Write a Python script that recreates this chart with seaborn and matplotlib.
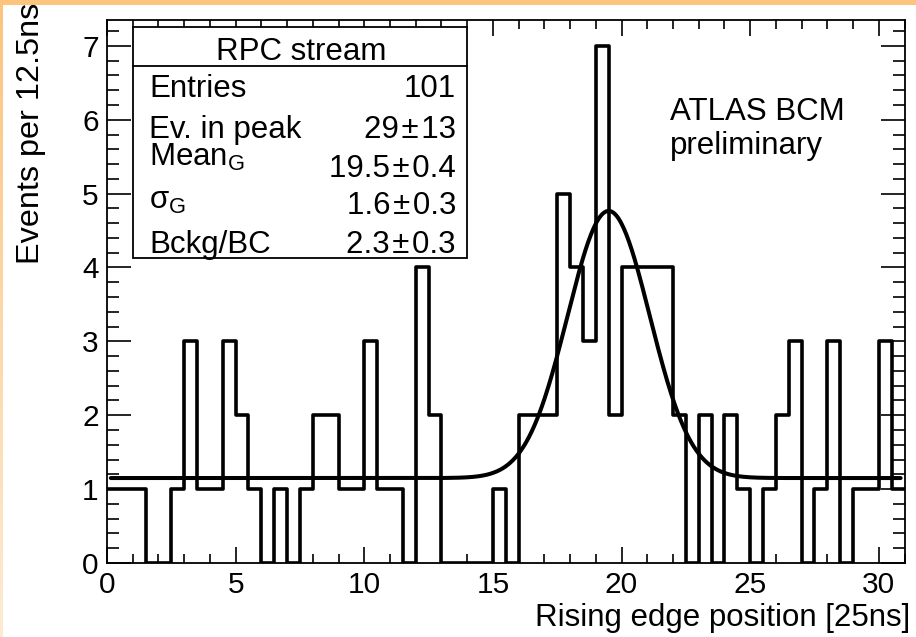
import numpy as np
import pandas as pd
import matplotlib
matplotlib.use("Agg")
import matplotlib.pyplot as plt
import seaborn as sns
from matplotlib.patches import Rectangle
from matplotlib.lines import Line2D
from matplotlib.ticker import MultipleLocator
from matplotlib.colors import LinearSegmentedColormap

# Rising-edge positions in units of one bunch crossing (25 ns), 12.5 ns bins
bin_width = 0.5
x_min, x_max = 0.0, 31.0
counts = [1, 1, 1, 0, 0, 1, 3, 1, 1, 3, 2, 1, 0, 1, 0, 1,
          2, 2, 1, 1, 3, 1, 1, 0, 4, 2, 0, 0, 0, 0, 1, 0,
          2, 2, 2, 5, 4, 3, 7, 2, 4, 4, 4, 4, 2, 0, 2, 0,
          2, 1, 0, 1, 2, 3, 0, 1, 3, 0, 1, 1, 3, 1]

# Gaussian + flat background fit results
stream_name = "RPC stream"
n_entries = 101
peak_events, peak_events_err = 29, 13
mean_g, mean_g_err = 19.5, 0.4
sigma_g, sigma_g_err = 1.6, 0.3
bckg_per_bc, bckg_per_bc_err = 2.3, 0.3

x_label = "Rising edge position [25ns]"
y_label = "Events per 12.5ns"
tag_lines = ["ATLAS BCM", "preliminary"]

bin_edges = [x_min + i * bin_width for i in range(len(counts) + 1)]
df = pd.DataFrame({"center": [e + bin_width / 2 for e in bin_edges[:-1]],
                   "count": counts})

W, H, DPI = 916, 637, 100
sns.set_style("ticks")
plt.rcParams["font.family"] = ["Liberation Sans", "DejaVu Sans"]
plt.rcParams["mathtext.fontset"] = "custom"
plt.rcParams["mathtext.rm"] = "Liberation Sans"
plt.rcParams["mathtext.it"] = "Liberation Sans"
plt.rcParams["mathtext.default"] = "regular"
plt.rcParams["text.color"] = "black"
plt.rcParams["axes.labelcolor"] = "black"

TXT = 22.5

fig = plt.figure(figsize=(W / DPI, H / DPI), dpi=DPI)
fig.patch.set_facecolor("white")

def px_box(left, top, right, bottom):
    return [left / W, 1 - bottom / H, (right - left) / W, (bottom - top) / H]

ax = fig.add_axes(px_box(107, 20, 904.5, 563))

sns.histplot(data=df, x="center", weights="count", bins=bin_edges,
             element="step", fill=False, color="black", linewidth=2.6, ax=ax)

# fitted function: flat background per bin + Gaussian peak
xf = np.linspace(0.15, 30.85, 600)
bkg_bin = bckg_per_bc * bin_width
amp = peak_events * bin_width / (sigma_g * np.sqrt(2 * np.pi))
yf = bkg_bin + amp * np.exp(-0.5 * ((xf - mean_g) / sigma_g) ** 2)
sns.lineplot(x=xf, y=yf, color="black", linewidth=2.9, ax=ax)

ax.set_xlim(x_min, x_max)
ax.set_ylim(0, 7.35)
ax.set_xlabel("")
ax.set_ylabel("")
ax.xaxis.set_major_locator(MultipleLocator(5))
ax.xaxis.set_minor_locator(MultipleLocator(1))
ax.yaxis.set_major_locator(MultipleLocator(1))
ax.yaxis.set_minor_locator(MultipleLocator(0.2))
ax.tick_params(axis="both", which="both", direction="in", top=True, right=True,
               width=1.2, colors="black", labelsize=21.5)
ax.tick_params(axis="x", which="major", length=11.5, pad=6)
ax.tick_params(axis="x", which="minor", length=6.2)
ax.tick_params(axis="y", which="major", length=17.5, pad=6)
ax.tick_params(axis="y", which="minor", length=8.8)
for sp in ax.spines.values():
    sp.set_visible(True)
    sp.set_linewidth(1.3)
    sp.set_color("black")

# axis titles
fig.text(910 / W, 1 - 626 / H, x_label, ha="right", va="baseline", fontsize=TXT)
fig.text(31 / W, 1 - 3 / H, y_label, ha="center", va="top", rotation=90, fontsize=23.3)

# statistics box
to_fig = lambda px, py: (px / W, 1 - py / H)
bx0, by0, bx1, by1 = 133, 27, 467, 258
box = Rectangle(to_fig(bx0, by1), (bx1 - bx0) / W, (by1 - by0) / H,
                transform=fig.transFigure, facecolor="white", edgecolor="black",
                linewidth=1.3, zorder=10, clip_on=False)
ax.add_artist(box)
fig.add_artist(Line2D([bx0 / W, bx1 / W], [1 - 66 / H, 1 - 66 / H],
                      color="black", linewidth=1.3, zorder=11))
fig.text(*to_fig(301, 60), stream_name, ha="center", va="baseline",
         fontsize=TXT, zorder=12)

pm = "\u200a\u00b1\u200a"
labels = ["Entries", "Ev. in peak", "Mean$_{G}$", r"$\sigma_{G}$", "Bckg/BC"]
values = [f"{n_entries}",
          f"{peak_events}{pm}{peak_events_err}",
          f"{mean_g}{pm}{mean_g_err}",
          f"{sigma_g}{pm}{sigma_g_err}",
          f"{bckg_per_bc}{pm}{bckg_per_bc_err}"]
label_base = [97, 138, 166, 209, 253]
value_base = [97, 138, 177, 214, 253]
for lab, val, lb, vb in zip(labels, values, label_base, value_base):
    fig.text(*to_fig(149, lb), lab, ha="left", va="baseline", fontsize=TXT, zorder=12)
    fig.text(*to_fig(456, vb), val, ha="right", va="baseline", fontsize=TXT, zorder=12)

fig.text(*to_fig(670, 120), tag_lines[0], ha="left", va="baseline", fontsize=TXT)
fig.text(*to_fig(670, 154), tag_lines[1], ha="left", va="baseline", fontsize=TXT)

# orange page border strips
top_ax = fig.add_axes(px_box(0, 0, W, 5))
top_ax.set_axis_off()
top_ax.add_patch(Rectangle((0, 0), 1, 1, color="#FCC47D", transform=top_ax.transAxes))
left_ax = fig.add_axes(px_box(0, 0, 3, H))
left_ax.set_axis_off()
grad = np.linspace(0, 1, 256).reshape(-1, 1)
cmap = LinearSegmentedColormap.from_list("edge", ["#FCC47D", "#FDEBD3"])
left_ax.imshow(grad, aspect="auto", cmap=cmap, extent=[0, 1, 0, 1], origin="upper")

fig.savefig("out.png", dpi=DPI)
